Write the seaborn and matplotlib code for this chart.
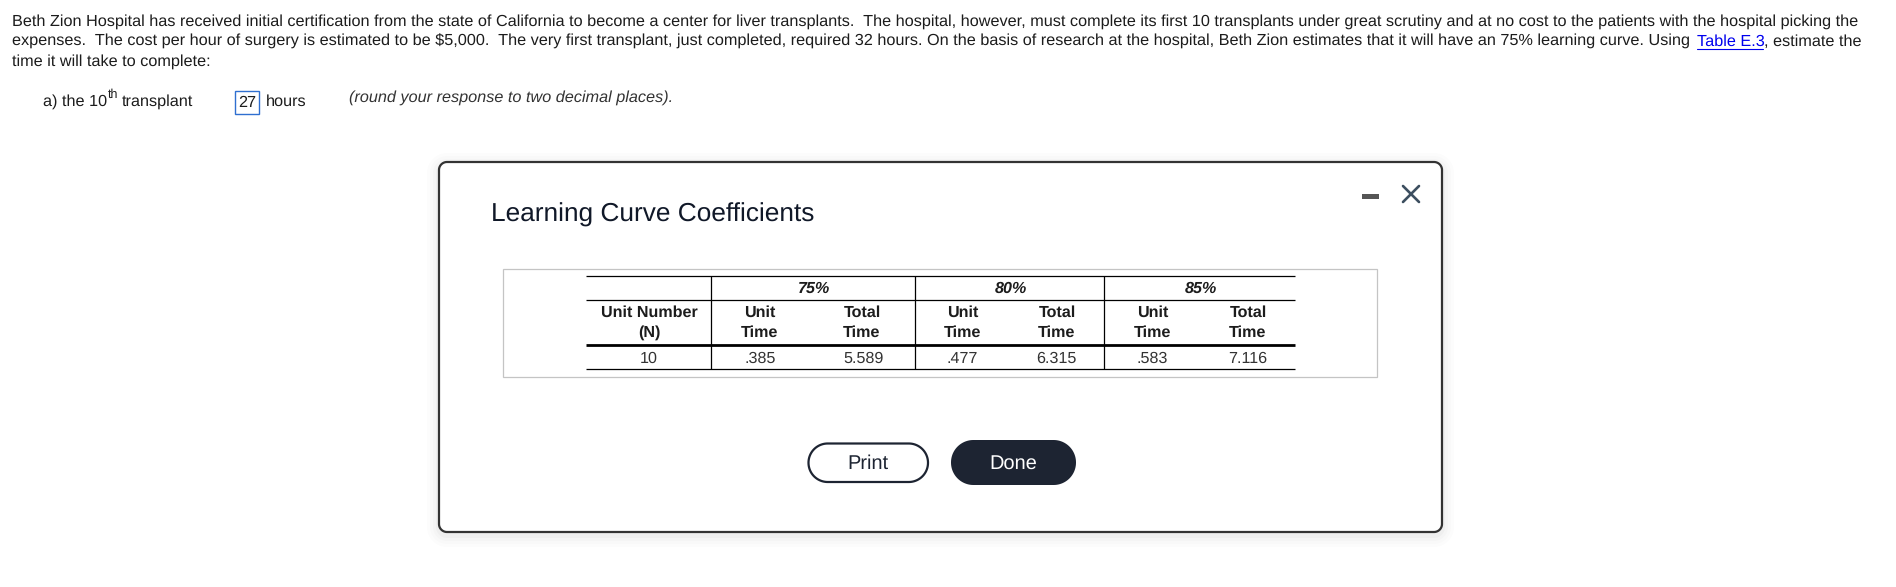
import numpy as np
import matplotlib
matplotlib.use("Agg")
import matplotlib.pyplot as plt
import seaborn as sns
from matplotlib.colors import ListedColormap
from matplotlib.patches import Polygon, Rectangle

# question text
line_1 = "Beth Zion Hospital has received initial certification from the state of California to become a center for liver transplants.  The hospital, however, must complete its first 10 transplants under great scrutiny and at no cost to the patients with the hospital picking the"
line_2 = "expenses.  The cost per hour of surgery is estimated to be $5,000.  The very first transplant, just completed, required 32 hours. On the basis of research at the hospital, Beth Zion estimates that it will have an 75% learning curve. Using "
link_text = "Table E.3"
line_2_end = ", estimate the"
line_3 = "time it will take to complete:"
answer = "27"
hint = "(round your response to two decimal places)."

# table values
modal_title = "Learning Curve Coefficients"
curve_labels = ["75%", "80%", "85%"]
unit_number = [10]
times_75 = [0.385, 5.589]
times_80 = [0.477, 6.315]
times_85 = [0.583, 7.116]

W, H = 1896, 587
DPI = 100


def px(size):
    return size * 72 / DPI


def rounded(ax, x0, y0, x1, y1, r, **kw):
    # circular corners, the "round" boxstyle comes out too square
    pts = []
    corners = [(x1 - r, y0 + r, -90), (x1 - r, y1 - r, 0), (x0 + r, y1 - r, 90), (x0 + r, y0 + r, 180)]
    for cx, cy, start in corners:
        t = np.radians(np.linspace(start, start + 90, 24))
        pts.extend(zip(cx + r * np.cos(t), cy + r * np.sin(t)))
    ax.add_patch(Polygon(pts, closed=True, **kw))


def fmt_time(v):
    s = "%.3f" % v
    return s[1:] if s.startswith("0.") else s


sns.set_theme(style="white")
plt.rcParams["font.family"] = ["Liberation Sans", "DejaVu Sans"]
plt.rcParams["text.hinting"] = "none"

fig = plt.figure(figsize=(W / DPI, H / DPI), dpi=DPI, facecolor="white")
ax = fig.add_axes([0, 0, 1, 1])
ax.set_xlim(0, W)
ax.set_ylim(H, 0)
ax.axis("off")

# Question
BODY = px(16.27)
ink = "#1c1c1c"
for y, txt in [(21.5, line_1), (41.5, line_2), (62, line_3)]:
    ax.text(12, y, txt, fontsize=BODY, color=ink, va="center")
ax.text(1697, 41.5, link_text, fontsize=BODY, color="#0000ee", va="center")
ax.plot([1697, 1763.5], [48.5, 48.5], color="#0000ee", lw=0.8)
ax.text(1764, 41.5, line_2_end, fontsize=BODY, color=ink, va="center")

# Answer row
ax.text(43, 102, "a) the 10", fontsize=BODY, color=ink, va="center")
ax.text(108, 95, "th", fontsize=px(12.5), color=ink, va="center")
ax.text(122, 102, "transplant", fontsize=BODY, color=ink, va="center")
ax.add_patch(Rectangle((235.5, 90.5), 24, 23.5, fill=False, ec="#2f6fd0", lw=1))
ax.text(247.5, 102.5, answer, fontsize=BODY, color=ink, va="center", ha="center")
ax.text(266, 102, "hours", fontsize=BODY, color=ink, va="center")
ax.text(349, 98, hint, fontsize=BODY, color="#333333", va="center", style="italic")

# Modal with soft shadow
for grow, a in [(12, 0.01), (9, 0.012), (6, 0.016), (3, 0.025)]:
    rounded(ax, 439 - grow, 162 - grow + 3, 1442 + grow, 532 + grow + 3, 8 + grow,
            fc="black", ec="none", alpha=a)
rounded(ax, 439, 162, 1442, 532, 8, fc="white", ec="#333333", lw=1.6)
ax.text(491, 215, modal_title, fontsize=px(26.2), color="#101828", va="center")

# Minimize and close icons
ax.add_patch(Rectangle((1362, 193.5), 17, 5.5, fc="#555555", ec="none"))
ax.plot([1403, 1419], [186, 202], color="#3d4f60", lw=1.9)
ax.plot([1403, 1419], [202, 186], color="#3d4f60", lw=1.9)

# Table frame and rules
ax.add_patch(Rectangle((503.5, 268.5), 873.5, 108.5, fill=False, ec="#c4c4c4", lw=0.9))
for y, lw in [(276, 0.9), (300, 0.9), (345, 2.0), (369, 0.9)]:
    ax.plot([586, 1295], [y, y], color="black", lw=lw, solid_capstyle="butt")
for x in [711.5, 915.5, 1104.5]:
    ax.plot([x, x], [276, 369], color="black", lw=0.9, solid_capstyle="butt")

# Table headers
TBL = px(16.1)
for x, label in zip([814, 1011, 1201], curve_labels):
    ax.text(x, 288.5, label, fontsize=TBL, color=ink, ha="center", va="center",
            weight="bold", style="italic")
ax.text(649, 312.5, "Unit Number", fontsize=TBL, color=ink, ha="center", va="center", weight="bold")
ax.text(649, 332.5, "(N)", fontsize=TBL, color=ink, ha="center", va="center", weight="bold")
for x, top in zip([760, 862, 963, 1057, 1153, 1248], ["Unit", "Total"] * 3):
    ax.text(x, 312.5, top, fontsize=TBL, color=ink, ha="center", va="center", weight="bold")
    ax.text(x, 332.5, "Time", fontsize=TBL, color=ink, ha="center", va="center", weight="bold")

# Table body, one heatmap per column group
groups = [
    (586, 711, unit_number, [str(v) for v in unit_number]),
    (709, 915, times_75, [fmt_time(v) for v in times_75]),
    (915, 1104, times_80, [fmt_time(v) for v in times_80]),
    (1104, 1295, times_85, [fmt_time(v) for v in times_85]),
]
for x0, x1, vals, labels in groups:
    hax = fig.add_axes([x0 / W, 1 - 370 / H, (x1 - x0) / W, 22 / H])
    sns.heatmap(np.array([vals], dtype=float), ax=hax, cmap=ListedColormap(["white"]),
                cbar=False, annot=np.array([labels]), fmt="", xticklabels=False, yticklabels=False,
                annot_kws={"fontsize": TBL, "color": "#333333"})
    hax.patch.set_alpha(0)
    for mesh in hax.collections:
        mesh.set_alpha(0)

# Buttons
rounded(ax, 808.5, 443.5, 928, 482, 19.2, fc="white", ec="#1d2432", lw=1.6)
ax.text(868, 464, "Print", fontsize=px(20), color="#1d2432", ha="center", va="center")
rounded(ax, 951, 440, 1076, 485, 22.4, fc="#1d2432", ec="none")
ax.text(1013, 464, "Done", fontsize=px(20), color="white", ha="center", va="center")

fig.savefig("out.png", dpi=DPI, facecolor="white")
